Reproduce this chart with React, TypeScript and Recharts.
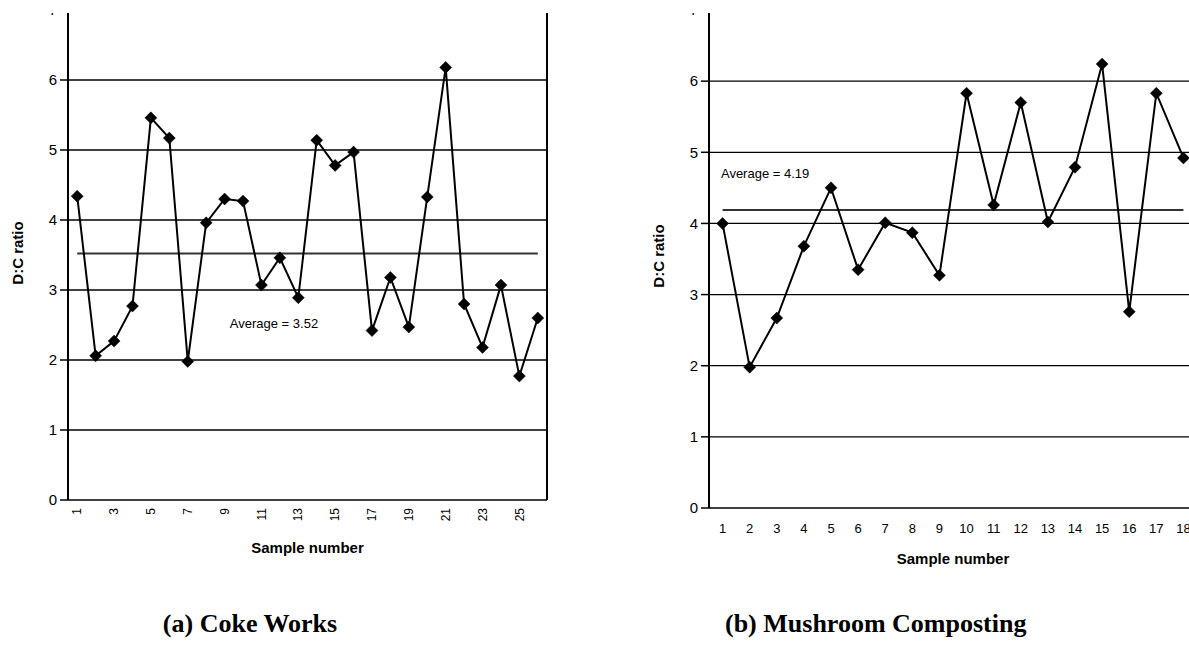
import React from 'react';
import { LineChart, Line, XAxis, YAxis, CartesianGrid, ReferenceLine, ReferenceDot } from 'recharts';

// ---- Data ----
const cokeSamples = [1, 2, 3, 4, 5, 6, 7, 8, 9, 10, 11, 12, 13, 14, 15, 16, 17, 18, 19, 20, 21, 22, 23, 24, 25, 26];
const cokeRatios = [4.34, 2.06, 2.27, 2.77, 5.46, 5.17, 1.98, 3.96, 4.3, 4.27, 3.07, 3.46, 2.89, 5.14, 4.78, 4.97, 2.42, 3.18, 2.47, 4.33, 6.18, 2.8, 2.18, 3.07, 1.77, 2.6];
const cokeAverage = 3.52;
const cokeTickLabels = [1, 3, 5, 7, 9, 11, 13, 15, 17, 19, 21, 23, 25];

const mushSamples = [1, 2, 3, 4, 5, 6, 7, 8, 9, 10, 11, 12, 13, 14, 15, 16, 17, 18];
const mushRatios = [4.0, 1.98, 2.67, 3.68, 4.5, 3.35, 4.01, 3.87, 3.27, 5.83, 4.26, 5.7, 4.02, 4.79, 6.24, 2.76, 5.83, 4.92];
const mushAverage = 4.19;
const mushTickLabels = [1, 2, 3, 4, 5, 6, 7, 8, 9, 10, 11, 12, 13, 14, 15, 16, 17, 18];

const yTicks = [0, 1, 2, 3, 4, 5, 6, 7];

const cokeData = cokeSamples.map((s, i) => ({ sample: s, ratio: cokeRatios[i] }));
const mushData = mushSamples.map((s, i) => ({ sample: s, ratio: mushRatios[i] }));
const cokeBoundaries = [0.5, ...cokeSamples.map((s) => s + 0.5)];
const mushBoundaries = [0.5, ...mushSamples.map((s) => s + 0.5)];

const FONT = '"Liberation Sans", Arial, sans-serif';

const Diamond = (props: any) => {
  const { cx, cy, index } = props;
  if (cx == null || cy == null) return <g key={`d-${index}`} />;
  const r = 6;
  return (
    <polygon
      key={`d-${index}`}
      points={`${cx},${cy - r} ${cx + r},${cy} ${cx},${cy + r} ${cx - r},${cy}`}
      fill="#000"
      stroke="#000"
      strokeWidth={0.5}
    />
  );
};

const RotatedTick = (props: any) => {
  const { x, y, payload } = props;
  return (
    <text
      x={x}
      y={y}
      transform={`rotate(-90, ${x}, ${y})`}
      textAnchor="end"
      dy="0.35em"
      fontSize={12}
      fill="#000"
      fontFamily={FONT}
    >
      {payload.value}
    </text>
  );
};

const FlatTick = (props: any) => {
  const { x, y, payload } = props;
  return (
    <text x={x} y={y} textAnchor="middle" dy="0.35em" fontSize={13} fill="#000" fontFamily={FONT}>
      {payload.value}
    </text>
  );
};

const xTitle = (dy: number) => (props: any) => {
  const vb = props.viewBox || {};
  return (
    <text
      x={vb.x + vb.width / 2}
      y={vb.y + dy}
      textAnchor="middle"
      dominantBaseline="central"
      fontSize={15}
      fontWeight="bold"
      fill="#000"
      fontFamily={FONT}
    >
      Sample number
    </text>
  );
};

const yTitle = (dx: number, cyAbs: number) => (props: any) => {
  const vb = props.viewBox || {};
  const x = vb.x + dx;
  return (
    <text
      x={x}
      y={cyAbs}
      transform={`rotate(-90, ${x}, ${cyAbs})`}
      textAnchor="middle"
      dominantBaseline="central"
      fontSize={15}
      fontWeight="bold"
      fill="#000"
      fontFamily={FONT}
    >
      D:C ratio
    </text>
  );
};

function CokeChart() {
  return (
    <LineChart
      width={560}
      height={570}
      data={cokeData}
      margin={{ top: 10, right: 13, left: 28, bottom: 10 }}
      style={{ fontFamily: FONT }}
    >
      <CartesianGrid vertical={false} stroke="#000" strokeWidth={1.3} />
      <YAxis
        domain={[0, 7]}
        ticks={yTicks}
        width={40}
        tickSize={8}
        tickMargin={3}
        axisLine={{ stroke: '#000', strokeWidth: 2 }}
        tickLine={{ stroke: '#000', strokeWidth: 1.5 }}
        tick={{ fill: '#000', fontSize: 15 }}
        label={{ content: yTitle(-10.5, 253) }}
      />
      <XAxis
        xAxisId="ticks"
        dataKey="sample"
        type="number"
        domain={[0.5, 26.5]}
        ticks={cokeBoundaries}
        interval={0}
        height={0}
        tickSize={5}
        tickFormatter={() => ''}
        axisLine={{ stroke: '#000', strokeWidth: 2.5 }}
        tickLine={{ stroke: '#000', strokeWidth: 1.5 }}
      />
      <XAxis
        xAxisId="labels"
        dataKey="sample"
        type="number"
        domain={[0.5, 26.5]}
        ticks={cokeTickLabels}
        interval={0}
        height={60}
        tickSize={6}
        tickMargin={2}
        axisLine={false}
        tickLine={false}
        tick={<RotatedTick />}
        label={{ content: xTitle(47) }}
      />
      <ReferenceLine xAxisId="ticks" x={26.5} stroke="#000" strokeWidth={2} />
      <ReferenceLine
        xAxisId="ticks"
        segment={[
          { x: cokeSamples[0], y: cokeAverage },
          { x: cokeSamples[cokeSamples.length - 1], y: cokeAverage },
        ]}
        stroke="#333"
        strokeWidth={2}
      />
      <ReferenceDot
        xAxisId="ticks"
        x={11.68}
        y={2.53}
        r={0}
        fill="none"
        stroke="none"
        label={{ value: `Average = ${cokeAverage.toFixed(2)}`, position: 'center', fontSize: 13, fill: '#000' }}
      />
      <Line
        xAxisId="ticks"
        type="linear"
        dataKey="ratio"
        stroke="#000"
        strokeWidth={2}
        dot={<Diamond />}
        activeDot={false}
        isAnimationActive={false}
      />
    </LineChart>
  );
}

function MushChart() {
  return (
    <LineChart
      width={557}
      height={573}
      data={mushData}
      margin={{ top: 10, right: 0, left: 29, bottom: 10 }}
      style={{ fontFamily: FONT }}
    >
      <CartesianGrid vertical={false} stroke="#000" strokeWidth={1.3} />
      <YAxis
        domain={[0, 7]}
        ticks={yTicks}
        width={40}
        tickSize={8}
        tickMargin={3}
        axisLine={{ stroke: '#000', strokeWidth: 2 }}
        tickLine={{ stroke: '#000', strokeWidth: 1.5 }}
        tick={{ fill: '#000', fontSize: 15 }}
        label={{ content: yTitle(-11, 256) }}
      />
      <XAxis
        xAxisId="ticks"
        dataKey="sample"
        type="number"
        domain={[0.5, 18.5]}
        ticks={mushBoundaries}
        interval={0}
        height={0}
        tickSize={4}
        tickFormatter={() => ''}
        axisLine={{ stroke: '#000', strokeWidth: 2.5 }}
        tickLine={{ stroke: '#000', strokeWidth: 1.5 }}
      />
      <XAxis
        xAxisId="labels"
        dataKey="sample"
        type="number"
        domain={[0.5, 18.5]}
        ticks={mushTickLabels}
        interval={0}
        height={55}
        tickSize={10}
        tickMargin={10}
        axisLine={false}
        tickLine={false}
        tick={<FlatTick />}
        label={{ content: xTitle(50) }}
      />
      <ReferenceLine
        xAxisId="ticks"
        segment={[
          { x: mushSamples[0], y: mushAverage },
          { x: mushSamples[mushSamples.length - 1], y: mushAverage },
        ]}
        stroke="#333"
        strokeWidth={2}
      />
      <ReferenceDot
        xAxisId="ticks"
        x={2.57}
        y={4.705}
        r={0}
        fill="none"
        stroke="none"
        label={{ value: `Average = ${mushAverage.toFixed(2)}`, position: 'center', fontSize: 13, fill: '#000' }}
      />
      <Line
        xAxisId="ticks"
        type="linear"
        dataKey="ratio"
        stroke="#000"
        strokeWidth={2}
        dot={<Diamond />}
        activeDot={false}
        isAnimationActive={false}
      />
    </LineChart>
  );
}

const captionStyle: React.CSSProperties = {
  position: 'absolute',
  top: 609,
  fontFamily: '"Liberation Serif", "Times New Roman", serif',
  fontWeight: 'bold',
  fontSize: 26,
  color: '#000',
  textAlign: 'center',
  whiteSpace: 'nowrap',
};

export default function App() {
  return (
    <div
      style={{
        position: 'absolute',
        left: 0,
        top: 0,
        width: 1189,
        height: 653,
        overflow: 'hidden',
        background: '#fff',
      }}
    >
      <div style={{ position: 'absolute', left: 0, top: 13, width: 1189, height: 600, overflow: 'hidden' }}>
        <div style={{ position: 'absolute', left: 0, top: -13 }}>
          <CokeChart />
        </div>
        <div style={{ position: 'absolute', left: 640, top: -13 }}>
          <MushChart />
        </div>
      </div>
      <div style={{ ...captionStyle, left: 100, width: 300 }}>(a) Coke Works</div>
      <div style={{ ...captionStyle, left: 725, width: 300 }}>(b) Mushroom Composting</div>
    </div>
  );
}
